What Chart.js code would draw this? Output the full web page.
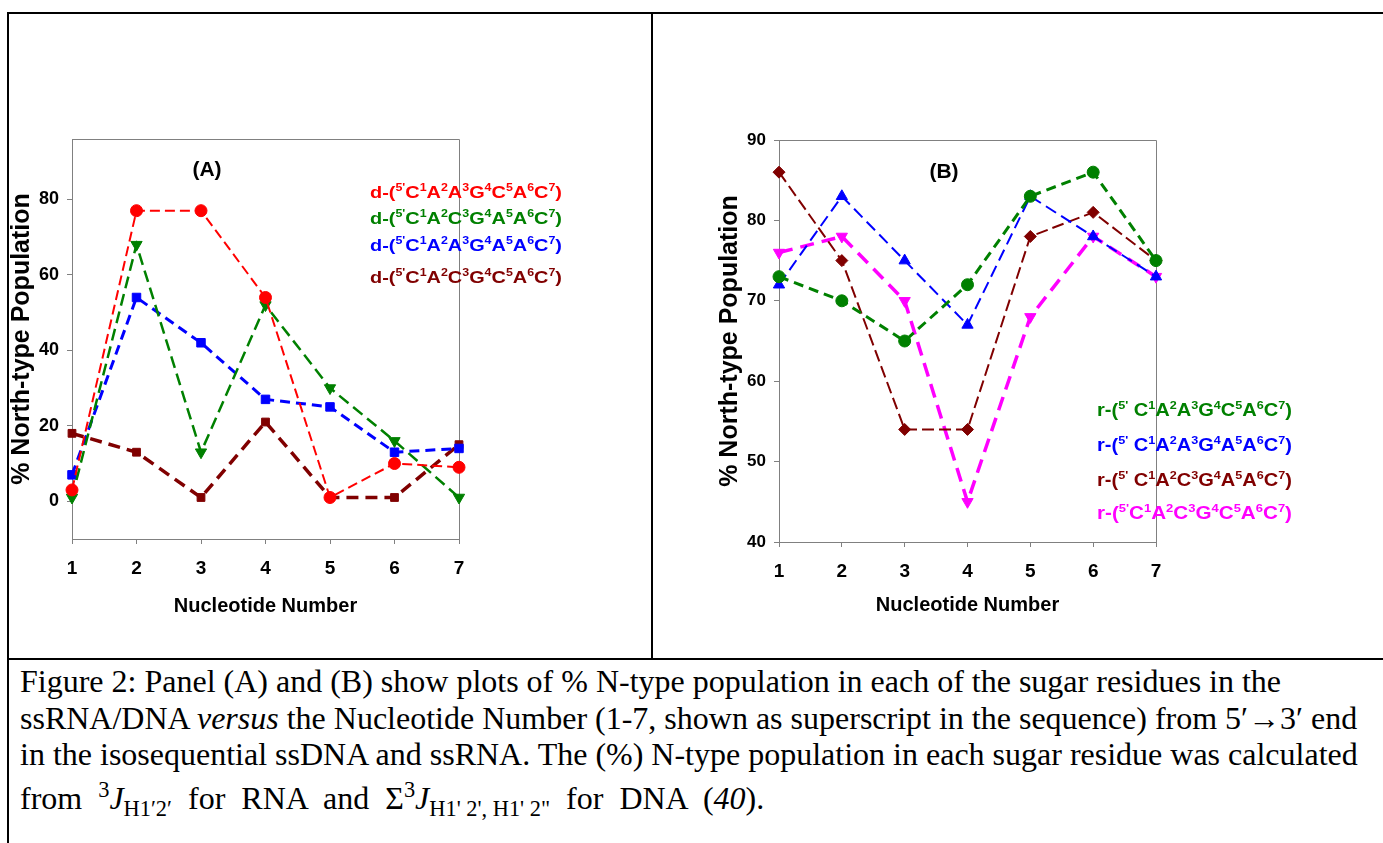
<!DOCTYPE html>
<html>
<head>
<meta charset="utf-8">
<script src="https://cdn.jsdelivr.net/npm/chart.js@4.4.0/dist/chart.umd.min.js"></script>
<style>
  html, body { margin: 0; padding: 0; background: #fff; }
  body { width: 1383px; height: 843px; position: relative; overflow: hidden; }
  .rule { position: absolute; background: #000; }
  #wrapA { position: absolute; left: 0; top: 0; }
  #wrapB { position: absolute; left: 654px; top: 0; }
  #caption {
    position: absolute; left: 20px; top: 663px;
    font-family: "Liberation Serif", "Times New Roman", serif;
    font-size: 32px; line-height: 36.5px; white-space: nowrap; color: #000;
  }
  #caption sub, #caption sup { font-size: 70%; }
  #caption .last { word-spacing: 8px; }
  #caption .last sub { word-spacing: 0; }
</style>
</head>
<body>
<div class="rule" style="left:7px;top:12px;width:1376px;height:2px"></div>
<div class="rule" style="left:7px;top:12px;width:2px;height:831px"></div>
<div class="rule" style="left:651px;top:12px;width:2px;height:647px"></div>
<div class="rule" style="left:7px;top:658px;width:1376px;height:2px"></div>

<div id="wrapA"><canvas id="chartA" width="651" height="657"></canvas></div>
<div id="wrapB"><canvas id="chartB" width="729" height="657"></canvas></div>

<div id="caption">
Figure 2: Panel (A) and (B) show plots of % N-type population in each of the sugar residues in the<br>
ssRNA/DNA <i>versus</i> the Nucleotide Number (1-7, shown as superscript in the sequence) from 5′→3′ end<br>
in the isosequential ssDNA and ssRNA. The (%) N-type population in each sugar residue was calculated<br>
<span class="last">from <sup>3</sup><i>J</i><sub>H1′2′</sub> for RNA and Σ<sup>3</sup><i>J</i><sub>H1' 2', H1' 2"</sub> for DNA (<i>40</i>).</span>
</div>

<script>
// x categories and tick values
const nucleotides = ['1', '2', '3', '4', '5', '6', '7'];
const yTicksA = [0, 20, 40, 60, 80];
const yTicksB = [40, 50, 60, 70, 80, 90];

// panel A - ssDNA
const dnaLabels = [
  "d-(5'C1A2A3G4C5A6C7)",
  "d-(5'C1A2C3G4A5A6C7)",
  "d-(5'C1A2A3G4A5A6C7)",
  "d-(5'C1A2C3G4C5A6C7)"
];
const dnaCAAGCAC = [3, 77, 77, 54, 1, 10, 9];
const dnaCACGAAC = [1, 68, 13, 52, 30, 16, 1];
const dnaCAAGAAC = [7, 54, 42, 27, 25, 13, 14];
const dnaCACGCAC = [18, 13, 1, 21, 1, 1, 15];

// panel B - ssRNA
const rnaLabels = [
  "r-(5' C1A2A3G4C5A6C7)",
  "r-(5' C1A2A3G4A5A6C7)",
  "r-(5' C1A2C3G4A5A6C7)",
  "r-(5'C1A2C3G4C5A6C7)"
];
const rnaCAAGCAC = [73, 70, 65, 72, 83, 86, 75];
const rnaCAAGAAC = [72, 83, 75, 67, 83, 78, 73];
const rnaCACGAAC = [86, 75, 54, 54, 78, 81, 75];
const rnaCACGCAC = [76, 78, 70, 45, 68, 78, 73];

const FONT = '"Liberation Sans", Arial, sans-serif';

// draws a sequence label with digits and primes as superscripts, right aligned
function drawRich(ctx, text, right, cy, size, width, color) {
  const big = 'bold ' + size + 'px ' + FONT;
  const small = 'bold ' + Math.round(size * 0.64) + 'px ' + FONT;
  const parts = [];
  let total = 0;
  for (const ch of text) {
    const sup = /[0-9']/.test(ch);
    ctx.font = sup ? small : big;
    const w = ctx.measureText(ch).width;
    parts.push({ ch, sup, w });
    total += w;
  }
  ctx.save();
  ctx.translate(right - width, cy + size * 0.36);
  ctx.scale(width / total, 1);
  ctx.fillStyle = color;
  ctx.textBaseline = 'alphabetic';
  ctx.textAlign = 'left';
  let x = 0;
  parts.forEach(p => {
    ctx.font = p.sup ? small : big;
    ctx.fillText(p.ch, x, p.sup ? -size * 0.42 : 0);
    x += p.w;
  });
  ctx.restore();
}

const panelText = {
  id: 'panelText',
  beforeDatasetsDraw(chart) {
    // box around the plot area
    const a = chart.chartArea, ctx = chart.ctx;
    ctx.save();
    ctx.strokeStyle = '#808080';
    ctx.lineWidth = 1;
    ctx.beginPath();
    ctx.moveTo(Math.round(a.left), Math.round(a.top) + 0.5);
    ctx.lineTo(Math.round(a.right) + 0.5, Math.round(a.top) + 0.5);
    ctx.lineTo(Math.round(a.right) + 0.5, Math.round(a.bottom));
    ctx.stroke();
    ctx.restore();
  },
  afterDraw(chart, args, opts) {
    const ctx = chart.ctx;
    ctx.save();
    ctx.fillStyle = '#000';
    ctx.font = 'bold 21px ' + FONT;
    ctx.textAlign = 'center';
    ctx.textBaseline = 'middle';
    ctx.fillText(opts.title, opts.titleX, opts.titleY);
    ctx.restore();
    chart.data.datasets.forEach((ds, i) => {
      drawRich(ctx, ds.label, opts.right, opts.rows[i], opts.size, opts.width, ds.borderColor);
    });
  }
};

function buildChart(id, series, o) {
  const axisGrid = { display: true, drawOnChartArea: false, drawTicks: true, tickLength: 5, color: '#808080' };
  return new Chart(document.getElementById(id), {
    type: 'line',
    data: {
      labels: nucleotides,
      datasets: series.map(s => ({
        label: s.label,
        data: s.data,
        borderColor: s.color,
        backgroundColor: s.color,
        borderWidth: s.width,
        borderDash: s.dash,
        pointStyle: s.point,
        pointRotation: s.rot || 0,
        pointRadius: s.radius,
        pointBorderWidth: 1,
        fill: false,
        tension: 0,
        clip: false
      }))
    },
    options: {
      responsive: false,
      animation: false,
      devicePixelRatio: 1,
      layout: { padding: o.padding },
      plugins: {
        legend: { display: false },
        tooltip: { enabled: false },
        panelText: o.text
      },
      scales: {
        x: {
          type: 'category',
          offset: false,
          grid: axisGrid,
          border: { color: '#808080', width: 1 },
          ticks: { color: '#000', font: { family: FONT, size: 19, weight: 'bold' }, padding: 13, maxRotation: 0, autoSkip: false },
          title: { display: true, text: 'Nucleotide Number', color: '#000',
                   font: { family: FONT, size: 20, weight: 'bold' }, padding: { top: 0, bottom: o.xTitlePad } },
          afterFit: s => { s.height = 100; }
        },
        y: {
          min: o.yMin,
          max: o.yMax,
          afterBuildTicks: s => { s.ticks = o.yTicks.map(v => ({ value: v })); },
          grid: axisGrid,
          border: { color: '#808080', width: 1 },
          ticks: { color: '#000', font: { family: FONT, size: o.tickSize, weight: 'bold' }, padding: 8 },
          title: { display: true, text: '% North-type Population', color: '#000',
                   font: { family: FONT, size: 25, weight: 'bold' }, padding: { top: o.yTitlePad, bottom: 0 } },
          afterFit: s => { s.width = o.yWidth; }
        }
      }
    },
    plugins: [panelText]
  });
}

Chart.defaults.font.family = FONT;

buildChart('chartA', [
  { label: dnaLabels[0], data: dnaCAAGCAC, color: '#FF0000', width: 2,   dash: [10, 5], point: 'circle',   radius: 6 },
  { label: dnaLabels[1], data: dnaCACGAAC, color: '#008000', width: 2.5, dash: [12, 6], point: 'triangle', rot: 180, radius: 6.5 },
  { label: dnaLabels[2], data: dnaCAAGAAC, color: '#0000FF', width: 3,   dash: [10, 6], point: 'rect',     radius: 6 },
  { label: dnaLabels[3], data: dnaCACGCAC, color: '#800000', width: 3.5, dash: [12, 7], point: 'rect',     radius: 5.5 }
], {
  padding: { left: 0, right: 192, top: 139, bottom: 18 },
  yMin: -10, yMax: 96, yTicks: yTicksA, yWidth: 72, yTitlePad: 7, xTitlePad: 21, tickSize: 18,
  text: { title: '(A)', titleX: 207, titleY: 170, right: 562, rows: [192, 218, 245, 277], size: 16, width: 192 }
});

buildChart('chartB', [
  { label: rnaLabels[0], data: rnaCAAGCAC, color: '#008000', width: 3,   dash: [10, 6], point: 'circle',   radius: 6 },
  { label: rnaLabels[1], data: rnaCAAGAAC, color: '#0000FF', width: 2,   dash: [12, 6], point: 'triangle', radius: 6.5 },
  { label: rnaLabels[2], data: rnaCACGAAC, color: '#800000', width: 2,   dash: [12, 5], point: 'rectRot',  radius: 6 },
  { label: rnaLabels[3], data: rnaCACGCAC, color: '#FF00FF', width: 3.5, dash: [14, 8], point: 'triangle', rot: 180, radius: 6.5 }
], {
  padding: { left: 0, right: 227, top: 140, bottom: 15 },
  yMin: 40, yMax: 90, yTicks: yTicksB, yWidth: 125, yTitlePad: 61, xTitlePad: 25, tickSize: 17,
  text: { title: '(B)', titleX: 290, titleY: 172, right: 638, rows: [410, 445, 480, 513], size: 17.5, width: 195 }
});
</script>
</body>
</html>
